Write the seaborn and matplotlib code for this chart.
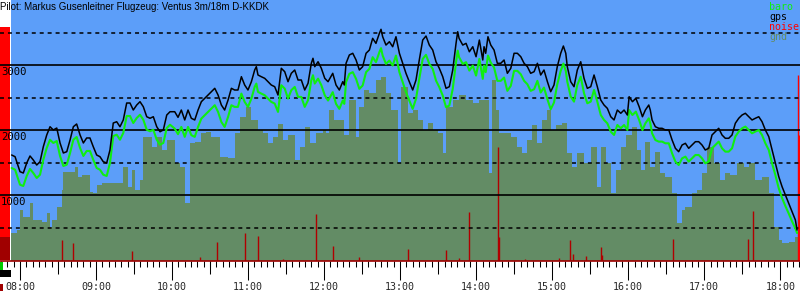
import matplotlib
matplotlib.use("Agg")
import matplotlib.pyplot as plt
import seaborn as sns
import numpy as np
import pandas as pd
from matplotlib.patches import Rectangle
from matplotlib.transforms import blended_transform_factory

# ---------------- data (time = minutes after 08:00, altitude in m) ----------------
title = "Pilot: Markus Gusenleitner Flugzeug: Ventus 3m/18m D-KKDK"
legend_labels = ["baro", "gps", "noise", "gnd"]
hour_labels = ["08:00", "09:00", "10:00", "11:00", "12:00", "13:00",
               "14:00", "15:00", "16:00", "17:00", "18:00"]
y_labels = [1000, 2000, 3000]

track_min = [-6.6, -3.9, 0, 2.6, 5.3, 7.9, 10.5, 13.2, 15.8, 18.4, 21.1, 23.7, 26.3, 29.0, 31.6, 34.2,
             36.9, 39.5, 42.1, 44.7, 47.4, 50.0, 52.6, 55.2, 57.8, 60.5, 63.1, 65.7, 68.4, 71.0, 73.6,
             76.3, 78.9, 81.5, 84.2, 86.8, 89.4, 92.1, 94.7, 97.3, 100.0, 102.6, 105.2, 107.9, 110.5,
             113.1, 115.8, 118.4, 122.1, 124.7, 127.3, 130.0, 132.6, 135.2, 137.9, 140.5, 143.1,
             145.8, 148.4, 151.0, 153.7, 156.3, 158.9, 161.5, 164.2, 166.8, 169.4, 172.0, 174.7,
             177.3, 179.9, 182.6, 185.2, 186.5, 187.8, 190.4, 193.1, 195.7, 198.3, 201.0, 203.6,
             206.2, 208.9, 211.5, 214.1, 216.8, 219.4, 222.0, 224.7, 227.3, 229.9, 231.2, 232.6,
             235.2, 237.8, 240.5, 243.1, 246.8, 249.4, 252.0, 254.7, 255.9, 257.3, 259.9, 262.6,
             265.2, 267.8, 270.4, 273.1, 275.7, 278.3, 280.9, 283.6, 284.9, 286.2, 288.8, 291.5,
             294.1, 296.7, 299.4, 302.0, 304.6, 307.2, 309.9, 312.5, 315.1, 317.8, 320.4, 323.0,
             325.7, 328.3, 330.9, 333.6, 336.2, 338.8, 341.5, 344.1, 345.4, 346.5, 349.4, 352.0,
             354.6, 357.3, 359.9, 362.5, 365.2, 366.2, 367.5, 369.3, 371.5, 374.1, 376.7, 379.4,
             382.0, 384.6, 387.3, 389.9, 392.5, 395.2, 397.8, 400.4, 403.0, 405.7, 408.3, 410.9,
             413.5, 416.2, 418.8, 421.4, 424.0, 426.7, 428.8, 430.7, 431.9, 434.6, 437.2, 439.8,
             442.5, 445.1, 447.7, 450.4, 453.0, 455.6, 458.3, 460.9, 463.5, 466.2, 468.8, 471.4,
             474.1, 476.7, 479.3, 480.7, 483.3, 486.0, 488.6, 491.2, 493.5, 496.2, 497.4, 498.8,
             501.4, 504.1, 506.7, 509.3, 512.0, 514.6, 517.2, 519.8, 522.5, 525.1, 527.7, 530.3,
             533.0, 535.6, 538.2, 540.8, 543.5, 546.1, 548.7, 551.4, 554.0, 556.6, 559.3, 561.9,
             564.5, 567.2, 569.8, 572.4, 575.1, 577.7, 580.3, 583.0, 585.6, 588.2, 590.9, 593.5,
             596.1, 598.8, 601.4, 604.0, 606.7, 609.3, 611.9, 613.2]

gps_alt = [1620, 1594, 1363, 1343, 1497, 1605, 1543, 1466, 1517, 1748, 1928, 2055, 2005, 2035, 1805, 1651,
           1671, 1851, 2055, 2097, 1928, 1805, 1882, 1882, 1748, 1620, 1594, 1517, 1497, 1697, 2112,
           2132, 2055, 2159, 2420, 2420, 2312, 2389, 2440, 2363, 2209, 2185, 2209, 2055, 1978,
           2005, 2235, 2286, 2286, 2200, 2312, 2159, 2312, 2185, 2159, 2312, 2440,
           2492, 2543, 2594, 2646, 2543, 2389, 2312, 2466, 2646, 2620, 2620, 2825,
           2697, 2620, 2748, 2928, 2979, 2851, 2825, 2800, 2748, 2697, 2671, 2543,
           2954, 2902, 2748, 2877, 2928, 2774, 2774, 2620, 2723, 3031, 3108, 2979,
           3055, 2954, 2800, 2748, 2877, 2697, 2620, 2748, 2697, 3031, 3159, 3185,
           3082, 2928, 2979, 3185, 3235, 3415, 3338, 3492, 3554, 3440, 3312, 3363,
           3286, 3440, 3185, 3031, 2877, 2748, 2620, 2774, 3082, 3389, 3451, 3312,
           3235, 3055, 2954, 2825, 2646, 2671, 2928, 3338, 3517, 3415, 3312, 3338,
           3209, 3286, 3132, 3389, 3082, 3286, 3185, 3440, 3312, 3235, 3031, 3031,
           3082, 2877, 2954, 3185, 3185, 3132, 3031, 2979, 2877, 2902, 3031, 2851,
           2928, 2748, 2594, 2697, 2979, 3185, 3297, 3185, 2979, 2748, 2671, 2928,
           3055, 2800, 2646, 2671, 2851, 2671, 2466, 2389, 2338, 2209, 2159, 2312,
           2262, 2312, 2235, 2517, 2440, 2492, 2363, 2209, 2312, 2389, 2312, 2159,
           2055, 2031, 2031, 2005, 2005, 1851, 1723, 1671, 1774, 1800, 1723, 1774,
           1825, 1825, 1774, 1697, 1723, 1928, 1978, 2031, 1928, 1877, 1877, 1928,
           2108, 2185, 2235, 2262, 2209, 2159, 2185, 2209, 2132, 2005, 1902, 1697,
           1492, 1286, 1132, 1005, 877, 748, 620, 466]

baro_alt = [1420, 1394, 1163, 1143, 1297, 1405, 1343, 1266, 1317, 1548, 1728, 1855, 1805, 1835, 1605, 1451,
            1471, 1651, 1855, 1897, 1728, 1605, 1682, 1682, 1548, 1420, 1394, 1317, 1297, 1497, 1912,
            1932, 1855, 1959, 2220, 2220, 2112, 2189, 2240, 2163, 2009, 1985, 2009, 1855, 1778,
            1805, 2035, 2086, 2026, 1940, 2052, 1899, 2052, 1925, 1899, 2052, 2180,
            2232, 2283, 2334, 2386, 2283, 2129, 2052, 2206, 2386, 2360, 2360, 2565,
            2437, 2360, 2488, 2668, 2719, 2591, 2565, 2540, 2488, 2437, 2411, 2283,
            2694, 2642, 2488, 2617, 2668, 2514, 2514, 2360, 2463, 2771, 2848, 2719,
            2795, 2694, 2540, 2458, 2587, 2407, 2330, 2458, 2407, 2741, 2869, 2895,
            2792, 2638, 2689, 2895, 2945, 3125, 3048, 3202, 3264, 3150, 3022, 3073,
            2996, 3150, 2895, 2741, 2587, 2458, 2330, 2484, 2792, 3099, 3161, 3022,
            2945, 2765, 2664, 2535, 2356, 2381, 2638, 3048, 3227, 3125, 3022, 3048,
            2919, 2996, 2842, 3099, 2792, 2996, 2895, 3150, 3042, 2965, 2761, 2761,
            2812, 2607, 2684, 2915, 2915, 2862, 2761, 2709, 2607, 2632, 2761, 2581,
            2658, 2478, 2324, 2427, 2709, 2915, 3027, 2915, 2749, 2518, 2441, 2698,
            2825, 2570, 2416, 2441, 2621, 2441, 2236, 2159, 2108, 1979, 1929, 2082,
            2032, 2082, 2005, 2312, 2235, 2287, 2158, 2004, 2107, 2184, 2107, 1954,
            1850, 1826, 1826, 1800, 1800, 1646, 1518, 1466, 1569, 1595, 1518, 1569,
            1620, 1620, 1569, 1492, 1518, 1723, 1773, 1826, 1723, 1672, 1672, 1723,
            1903, 1980, 2030, 2057, 2004, 1954, 1980, 2004, 1927, 1800, 1697, 1492,
            1312, 1106, 957, 835, 717, 598, 490, 420]

gnd_min = [-7.1, -2.4, 0, 2.4, 7.9, 10.3, 17.4, 21.3, 23.7, 25.3, 29.2, 33.1, 33.9, 43.4, 45.8, 48.9,
           55.2, 57.6, 60.8, 64.7, 81.3, 85.2, 88.4, 90.8, 94.7, 97.1, 104.2, 108.1, 112.1, 116.0,
           122.3, 126.3, 130.2, 134.2, 138.1, 142.8, 146.8, 150.7, 157.8, 164.2, 169.7, 173.6,
           178.4, 182.3, 187.8, 191.8, 195.7, 199.7, 203.6, 207.6, 211.5, 217.0, 221.0, 224.9,
           228.9, 233.6, 239.1, 241.5, 243.9, 247.8, 255.7, 259.6, 265.1, 267.5, 271.5, 275.4,
           281.0, 284.9, 288.8, 292.8, 298.3, 300.7, 306.2, 310.2, 314.1, 318.0, 322.0, 325.9,
           329.9, 333.8, 336.2, 341.7, 346.5, 352.0, 357.5, 362.2, 370.1, 372.5, 375.7, 378.0,
           387.5, 392.2, 396.2, 400.1, 404.1, 408.0, 412.0, 415.9, 419.1, 423.0, 427.7, 431.7,
           435.6, 439.6, 445.1, 450.6, 455.4, 458.5, 462.5, 466.4, 470.4, 474.3, 478.3, 483.0,
           486.9, 490.1, 493.3, 497.2, 501.1, 505.1, 509.0, 514.6, 518.5, 522.5, 524.8, 530.4,
           534.3, 538.2, 542.2, 547.7, 552.4, 556.4, 560.3, 565.8, 571.4, 575.3, 580.1, 585.6,
           591.1, 595.1, 599.0, 601.4, 606.9, 611.6, 615.6]
gnd_alt = [415, 466, 774, 671, 882, 620, 594, 728, 517, 620, 825, 1082, 1363, 1440, 1286, 1312,
           1055, 1031, 1158, 1185, 1440, 1132, 1389, 1082, 1235, 1902, 1748, 1902, 1697, 1851,
           1492, 1440, 877, 1800, 1825, 1954, 1978, 1902, 1594, 1569, 1954, 2209,
           2363, 2159, 2005, 1954, 1800, 1902, 2097, 1851, 1928, 1543, 1748, 2055,
           1800, 1954, 2005, 1954, 2312, 2159, 1928, 2466, 1902, 2363, 2620, 2569,
           2774, 2825, 2569, 2312, 1492, 2671, 2262, 2312, 2159, 2005, 2108, 2005,
           1954, 1646, 2363, 2466, 2543, 2466, 2415, 2466, 1338, 2774, 2312, 1954,
           1902, 1748, 1646, 1851, 2082, 1800, 2159, 2312, 2005, 2082, 2108, 1646,
           1440, 1646, 1492, 1748, 1132, 1748, 1492, 1031, 1389, 1748, 1928, 2055,
           1697, 1389, 1825, 1440, 1671, 1338, 1286, 1031, 569, 774, 825, 1031,
           1082, 1338, 1748, 1492, 1235, 1338, 1312, 1492, 1440, 1492, 1235, 1286,
           1031, 517, 312, 262, 286, 363, 363]

noise_min = [33.4, 42.1, 88.6, 141.8, 155.7, 177.8, 188.1, 207.2, 233.8, 247.3, 267.8, 306.5, 336.2,
             346.2, 354.1, 377.5, 378.3, 398.8, 425.6, 434.3, 436.7, 446.9, 458.8, 459.6, 515.6,
             574.8, 578.7, 614.3, 615.0]
noise_val = [312, 262, 143, 46, 277, 415, 374, 20, 712, 220, 46, 169, 158,
             35, 738, 1748, 354, 20, 35, 312, 92, 66, 200, 82, 328,
             328, 758, 2850, 1930]

# left-hand launch strip (noise before start)
strip_min = [-15.8, -7.5]
strip_noise = 3590
strip_dark = 360

# ---------------- style ----------------
BLUE = "#5c9ef9"
GND = "#638c65"
GREEN = "#10ee10"
NOISE_DARK = "#b00000"
NOISE_RED = "#ff0000"
MONO = "DejaVu Sans Mono"

sns.set_style("white")
plt.rcParams["font.family"] = ["DejaVu Sans Mono", "DejaVu Sans"]
plt.rcParams["xtick.bottom"] = True
plt.rcParams["xtick.minor.visible"] = True

W, H = 800, 300
fig = plt.figure(figsize=(8, 3), dpi=100)
fig.patch.set_facecolor("white")
ax = fig.add_axes([0, 39 / H, 1, 261 / H])
ax.set_facecolor("white")

def to_h(m):
    return 8 + np.asarray(m, dtype=float) / 60.0

XMIN, XMAX = 7.7369, 18.259
ax.set_xlim(XMIN, XMAX)
ax.set_ylim(-11, 4005)

# blue background from start of the recorded track
ax.axvspan(to_h(gnd_min[0]), XMAX, color=BLUE, lw=0, zorder=0)

# launch strip
s0, s1 = to_h(strip_min)
ax.bar(s0, strip_noise, width=s1 - s0, align="edge", color=NOISE_RED, lw=0, zorder=1)
ax.bar(s0, strip_dark, width=s1 - s0, align="edge", color="#a00000", lw=0, zorder=1.1)

# ground
gx = to_h(gnd_min)
ax.fill_between(gx, -11, gnd_alt, step="post", color=GND, lw=0, zorder=1)

# noise
ncol = [NOISE_RED if v > 1800 else NOISE_DARK for v in noise_val]
ax.vlines(to_h(noise_min), -11, noise_val, colors=ncol, lw=1.0, zorder=2)

# grid
for v in [1000, 2000, 3000]:
    ax.axhline(v, color="black", lw=1.2, zorder=3)
for v in [500, 1500, 2500, 3500]:
    ax.axhline(v, color="black", lw=1.1, ls=(0, (2.6, 2.6)), zorder=3)

df = pd.DataFrame({"t": to_h(track_min), "baro": baro_alt, "gps": gps_alt})
sns.lineplot(data=df, x="t", y="baro", color=GREEN, lw=1.5, ax=ax, zorder=4,
             estimator=None, sort=False)
sns.lineplot(data=df, x="t", y="gps", color="black", lw=1.1, ax=ax, zorder=5,
             estimator=None, sort=False)
ax.set_xlabel("")
ax.set_ylabel("")

# spines / ticks
for sp in ["top", "left", "right"]:
    ax.spines[sp].set_visible(False)
ax.spines["bottom"].set_color("#a00000")
ax.spines["bottom"].set_linewidth(1.2)
ax.spines["bottom"].set_zorder(6)
ax.set_yticks([])
ax.tick_params(axis="y", which="both", left=False)

hours = np.arange(8, 19)
ax.set_xticks(hours)
ax.set_xticklabels(hour_labels, family=MONO, fontsize=7.2)
ax.set_xticks(np.arange(7.75, 18.26, 5 / 60), minor=True)
ax.tick_params(axis="x", which="major", bottom=True, length=13.7, width=0.75,
               color="black", pad=1.5, direction="out")
ax.tick_params(axis="x", which="minor", bottom=True, length=4.3, width=0.75,
               color="black", direction="out")

secax = ax.secondary_xaxis("bottom")
secax.set_xticks(np.arange(7.5, 18.6, 1.0))
secax.set_xticklabels([])
secax.tick_params(axis="x", which="major", bottom=True, length=9.0, width=0.75,
                  color="black", direction="out")
secax.tick_params(axis="x", which="minor", bottom=False)
secax.spines["bottom"].set_visible(False)

# y labels inside the plot (left edge)
tr = blended_transform_factory(ax.transAxes, ax.transData)
for v in y_labels:
    ax.text(0.001, v - 25, str(v), transform=tr, ha="left", va="top",
            family=MONO, fontsize=7.6, color="black", zorder=7)

# title
fig.text(0.0, 1 - 2 / H, title, ha="left", va="top", family="Liberation Sans",
         fontsize=7.0, color="black")

# legend text
leg_cols = [GREEN, "black", NOISE_RED, GND]
for i, (lab, c) in enumerate(zip(legend_labels, leg_cols)):
    fig.text(769 / W, 1 - (2 + 10 * i) / H, lab, ha="left", va="top",
             family=MONO, fontsize=7.2, color=c)

# small markers below the axis at the far left
fig.add_artist(Rectangle((0, (H - 271) / H), 2.5 / W, 9 / H, transform=fig.transFigure,
                         color="#00cc00", lw=0))
fig.add_artist(Rectangle((0, (H - 277) / H), 11 / W, 7 / H, transform=fig.transFigure,
                         color="black", lw=0))
fig.add_artist(Rectangle((0, (H - 291) / H), 2.5 / W, 7 / H, transform=fig.transFigure,
                         color="#a00000", lw=0))

fig.savefig("out.png", dpi=100)
